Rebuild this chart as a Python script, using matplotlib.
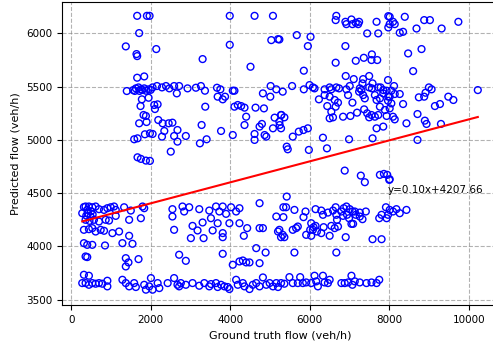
import numpy as np
import matplotlib
matplotlib.use("Agg")
import matplotlib.pyplot as plt

# (ground truth, predicted) pairs, grouped by band
top_pts = [(1660, 6165), (1905, 6165), (1972, 6165), (1710, 6003), (1374, 5878), (1643, 5806), (1660, 5787),
           (2140, 5853), (1660, 5584), (1837, 5596), (3989, 6165), (4613, 6165), (5076, 6165), (3989, 5893),
           (5034, 5937), (5203, 5946), (3306, 5759), (4511, 5687), (6670, 6165), (6653, 6125), (6898, 6109),
           (6923, 6087), (7050, 6131), (7075, 6087), (7159, 6100), (7218, 6087), (7243, 6109), (7682, 6109),
           (7977, 6162), (5237, 5943), (5675, 5984), (5954, 5881), (6021, 5968), (7446, 6000), (7724, 6000),
           (7977, 6056), (6898, 5881), (6653, 5725), (7159, 5743), (7361, 5771), (7564, 5803), (7555, 5750),
           (7699, 5750), (5852, 5650), (6906, 5600), (7108, 5571), (7344, 5571), (7496, 5600), (7328, 5531),
           (7581, 5531), (8012, 6156), (8012, 6087), (8096, 6109), (8139, 6087), (8392, 6156), (8880, 6125),
           (9024, 6125), (9319, 6046), (9740, 6109), (8349, 6015), (8265, 6006), (8687, 6046), (8476, 5812),
           (8813, 5853), (8602, 5646), (7970, 5562)]

band_5500 = [(1399, 5459), (1559, 5468), (1627, 5484), (1694, 5493), (1753, 5475), (1837, 5484), (1947, 5475),
             (2048, 5493), (2158, 5506), (2284, 5493), (2385, 5506), (2470, 5484), (1600, 5460), (1720, 5460),
             (1880, 5462), (2000, 5470), (1790, 5470), (2589, 5506), (2716, 5506), (2657, 5437), (2927, 5484),
             (3137, 5490), (3264, 5506), (3365, 5462), (3668, 5490), (3753, 5475), (3685, 5406), (3812, 5381),
             (3871, 5406), (4065, 5462), (4107, 5462), (4823, 5437), (5017, 5506), (5009, 5406), (5160, 5475),
             (5321, 5453), (5557, 5506), (5852, 5475), (5996, 5515), (6080, 5493), (6122, 5484), (6375, 5475),
             (6502, 5493), (6544, 5475), (6670, 5493), (6738, 5484), (6923, 5475), (7007, 5506), (7260, 5484),
             (7302, 5468), (7496, 5493), (7564, 5484), (7783, 5493), (7850, 5468), (7935, 5462), (7724, 5493),
             (8122, 5506), (8054, 5462), (8999, 5493), (9066, 5475), (10229, 5468)]

mid_upper = [(1778, 5381), (1947, 5396), (1745, 5318), (2090, 5328), (2174, 5334), (2107, 5290), (1820, 5234),
             (1880, 5225), (1710, 5156), (1896, 5168), (2191, 5187), (2300, 5156), (2452, 5156), (1585, 5006),
             (1669, 5015), (1854, 5053), (1981, 5062), (2048, 5056), (2284, 5031), (2343, 5084),
             (3373, 5312), (4107, 5312), (4191, 5328), (4275, 5318), (4360, 5303), (4638, 5303), (4849, 5296),
             (4402, 5218), (5118, 5209), (5287, 5234), (3281, 5140), (4360, 5140), (4739, 5125), (4798, 5150),
             (5076, 5109), (3770, 5084), (4065, 5046), (4613, 5056), (4866, 5046), (4908, 5031), (5245, 5140),
             (2547, 5162), (2674, 5093), (2589, 5037), (2674, 4984), (2884, 5037), (3238, 4968), (3407, 5006),
             (4613, 5000), (6232, 5381), (6375, 5421), (6502, 5406), (6628, 5375), (6712, 5350), (6965, 5421),
             (7075, 5350), (7243, 5453), (7344, 5421), (7386, 5390), (7640, 5421), (7682, 5375), (7766, 5390),
             (7850, 5437), (7977, 5406), (6442, 5318), (6653, 5312), (6544, 5265), (6502, 5203), (6586, 5212),
             (6839, 5218), (7024, 5225), (7192, 5256), (7370, 5287), (7446, 5250), (7496, 5212), (7555, 5234),
             (7640, 5218), (7724, 5234), (7766, 5312), (7892, 5281), (7935, 5225), (5279, 5234), (5363, 5212),
             (5237, 5171), (5279, 5109), (5574, 5031), (5726, 5078), (5844, 5093), (5954, 5109), (6333, 5021),
             (6990, 5006), (7581, 5015), (7682, 5109), (7850, 5125), (5422, 4937), (5448, 4912), (5979, 4906),
             (6434, 4921), (8139, 5431), (8265, 5431), (8012, 5406), (7970, 5368), (8054, 5343), (8012, 5296),
             (8349, 5337), (8746, 5400), (8880, 5406), (8914, 5443), (9487, 5406), (9614, 5375), (9150, 5318),
             (9277, 5337), (8096, 5218), (8139, 5193), (8712, 5243), (8434, 5156), (8897, 5181), (8939, 5150),
             (9302, 5150), (8712, 5000)]

mid_lower = [(1669, 4837), (1753, 4822), (1880, 4806), (1981, 4803), (2505, 4890), (6881, 4712), (7286, 4665),
             (7387, 4603), (7766, 4672), (7867, 4681), (7951, 4672), (8002, 4625), (8012, 4631), (5422, 4468)]

band_4300 = [(278, 4312), (362, 4375), (446, 4375), (531, 4368), (404, 4343), (488, 4281), (615, 4375),
             (699, 4350), (826, 4343), (910, 4359), (994, 4368), (1079, 4375), (1121, 4343), (362, 4250),
             (573, 4250), (699, 4234), (868, 4250), (952, 4243), (1332, 4368), (1500, 4337), (1795, 4375),
             (1837, 4359), (1121, 4287), (1458, 4250), (1753, 4265), (320, 4370), (420, 4310), (500, 4330),
             (380, 4290), (460, 4240), (540, 4300), (320, 4156), (446, 4162), (531, 4172), (615, 4140),
             (742, 4156), (826, 4147), (1037, 4125), (1205, 4140), (1458, 4100), (1289, 4031), (1542, 4025),
             (320, 4031), (404, 4015), (531, 4015), (851, 4009),
             (2547, 4350), (2800, 4375), (2842, 4328), (2969, 4368), (3222, 4350), (3474, 4337), (3643, 4375),
             (3727, 4328), (3812, 4375), (3896, 4306), (4022, 4368), (4149, 4328), (4233, 4359), (4739, 4406),
             (5160, 4281), (2547, 4281), (2589, 4156), (3053, 4193), (3179, 4150), (3306, 4225), (3559, 4150),
             (3685, 4218), (3812, 4125), (3812, 4087), (3331, 4078), (3011, 4078), (3980, 4218), (4233, 4218),
             (4343, 4100), (4427, 4172), (4739, 4172), (4823, 4172), (5203, 4140), (3516, 4265),
             (5338, 4368), (5406, 4368), (5616, 4343), (5338, 4275), (5844, 4275), (5895, 4328), (6147, 4350),
             (6291, 4337), (6333, 4297), (6459, 4318), (6586, 4337), (6653, 4368), (6797, 4328), (6856, 4359),
             (6923, 4375), (7007, 4350), (7075, 4328), (7134, 4328), (7159, 4297), (7260, 4318), (7412, 4328),
             (6670, 4297), (6940, 4297), (6687, 4250), (6839, 4287), (6990, 4265), (7260, 4281), (7328, 4256),
             (7749, 4265), (7808, 4297), (7918, 4368), (7935, 4265), (5237, 4156), (5321, 4109), (5279, 4087),
             (5363, 4087), (5574, 4156), (5659, 4172), (5701, 4187), (5911, 4109), (6038, 4218), (6013, 4156),
             (6038, 4100), (6080, 4156), (6097, 4181), (6147, 4193), (6181, 4140), (6291, 4125), (6350, 4181),
             (6502, 4100), (6544, 4193), (6628, 4172), (6712, 4187), (6906, 4087), (7050, 4212), (7092, 4212),
             (7581, 4068), (7808, 4068), (8012, 4343), (7970, 4297), (8096, 4328), (8181, 4350), (8265, 4312),
             (8434, 4343)]

low_pts = [(362, 3906), (404, 3900), (1374, 3890), (1374, 3812), (1694, 3881), (1441, 3850), (2716, 3922),
           (2884, 3865), (3812, 3931), (4065, 3828), (4233, 3859), (4318, 3868), (4402, 3850), (4486, 3850),
           (4739, 3843), (4655, 3984), (4891, 3943), (5616, 3943), (6670, 3943)]

band_3650 = [(320, 3734), (446, 3725), (278, 3656), (362, 3656), (446, 3640), (531, 3656), (615, 3650),
             (699, 3656), (784, 3650), (910, 3678), (910, 3625), (1289, 3687), (1374, 3656), (1458, 3625),
             (1584, 3656), (1627, 3619), (1837, 3640), (1880, 3594), (1964, 3625), (2006, 3703), (2048, 3594),
             (2175, 3656), (2217, 3609), (2427, 3656), (2589, 3703), (2674, 3640), (2716, 3625), (2758, 3656),
             (2884, 3640), (3053, 3656), (3222, 3631), (3348, 3656), (3474, 3625), (3517, 3647), (3643, 3656),
             (3685, 3619), (3770, 3640), (3854, 3625), (3938, 3619), (3980, 3600), (4149, 3687), (4191, 3640),
             (4318, 3656), (4360, 3625), (4486, 3600), (4570, 3640), (4655, 3656), (4739, 3625), (4823, 3709),
             (4908, 3640), (4992, 3656), (5076, 3625), (5160, 3656), (5203, 3619), (5279, 3656), (5363, 3650),
             (5490, 3712), (5574, 3656), (5701, 3656), (5760, 3712), (5827, 3656), (5911, 3662), (6038, 3656),
             (6122, 3725), (6164, 3672), (6206, 3625), (6333, 3725), (6375, 3662), (6459, 3656), (6502, 3687),
             (6797, 3656), (6881, 3656), (6965, 3662), (7050, 3725), (7075, 3640), (7134, 3672), (7260, 3662),
             (7429, 3656), (7555, 3662), (7682, 3656), (7749, 3687)]

slope = 0.0985
intercept = 4207.66


def main():
    pts = np.array(top_pts + band_5500 + mid_upper + mid_lower + band_4300 + low_pts + band_3650, dtype=float)
    truth, pred = pts[:, 0], pts[:, 1]

    fig = plt.figure(figsize=(4.93, 3.49), dpi=100)
    # right spine falls just outside the picture, as in the reference
    ax = fig.add_axes([0.126, 0.126, 0.886, 0.868])
    ax.scatter(truth, pred, s=24, facecolors='none', edgecolors='b', linewidths=1.0, zorder=3)

    xs = np.linspace(truth.min(), truth.max(), 50)
    ax.plot(xs, slope * xs + intercept, color='r', linewidth=1.5, zorder=4)
    ax.text(7950, 4500, 'y=%.2fx+%.2f' % (slope, intercept), fontsize=7.5, zorder=5)

    ax.set_xlim(-228, 10760)
    ax.set_ylim(3450, 6294)
    ax.set_xticks([0, 2000, 4000, 6000, 8000, 10000])
    ax.set_yticks([3500, 4000, 4500, 5000, 5500, 6000])
    ax.tick_params(labelsize=7.5)
    ax.grid(True, linestyle='--', color='gray', alpha=0.6, zorder=0)
    ax.set_axisbelow(True)
    ax.set_xlabel('Ground truth flow (veh/h)', fontsize=8)
    ax.set_ylabel('Predicted flow (veh/h)', fontsize=8)

    fig.savefig('out.png', dpi=100)


if __name__ == '__main__':
    main()
